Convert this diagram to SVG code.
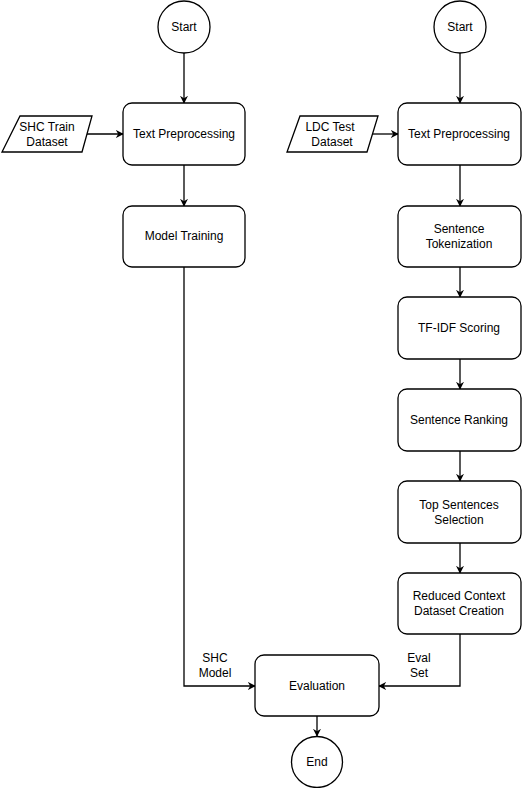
<svg xmlns="http://www.w3.org/2000/svg" width="522" height="788" viewBox="0 0 522 788">
<style>
.n{fill:#fff;stroke:#000;stroke-width:1.3}
.t{font-family:"Liberation Sans",Arial,sans-serif;font-size:12px;fill:#000;text-anchor:middle}
.c{fill:none;stroke:#000;stroke-width:1.3}
</style>
<defs>
<marker id="a" viewBox="0 0 10 10" refX="9" refY="5" markerWidth="8" markerHeight="8" markerUnits="userSpaceOnUse" orient="auto">
<path d="M0,0 L10,5 L0,10 L3,5 z" fill="#000"/>
</marker>
</defs>
<rect width="522" height="788" fill="#fff"/>
<g id="connectors">
<path class="c" d="M184,53 V103" marker-end="url(#a)"/>
<path class="c" d="M82,134 H123" marker-end="url(#a)"/>
<path class="c" d="M184,165 V206" marker-end="url(#a)"/>
<path class="c" d="M184,267 V686 H255" marker-end="url(#a)"/>
<path class="c" d="M460,53 V103" marker-end="url(#a)"/>
<path class="c" d="M368,134 H398" marker-end="url(#a)"/>
<path class="c" d="M460,165 V206" marker-end="url(#a)"/>
<path class="c" d="M460,267 V297" marker-end="url(#a)"/>
<path class="c" d="M460,359 V389" marker-end="url(#a)"/>
<path class="c" d="M460,451 V481" marker-end="url(#a)"/>
<path class="c" d="M460,543 V573" marker-end="url(#a)"/>
<path class="c" d="M460,634 V686 H379" marker-end="url(#a)"/>
<path class="c" d="M317,716 V736" marker-end="url(#a)"/>
<text class="t" x="215" y="662">SHC</text>
<text class="t" x="215" y="677">Model</text>
<text class="t" x="419" y="662">Eval</text>
<text class="t" x="419" y="677">Set</text>
</g>
<g id="start1"><circle class="n" cx="184" cy="27" r="26"/><text class="t" x="184" y="31">Start</text></g>
<g id="shc"><polygon class="n" points="20,116 92,116 82,152 2,152"/><text class="t" x="47" y="131">SHC Train</text><text class="t" x="47" y="146">Dataset</text></g>
<g id="prep1"><rect class="n" x="123" y="103" width="122" height="62" rx="9"/><text class="t" x="184" y="138">Text Preprocessing</text></g>
<g id="train"><rect class="n" x="123" y="206" width="122" height="61" rx="9"/><text class="t" x="184" y="240">Model Training</text></g>
<g id="start2"><circle class="n" cx="460" cy="27" r="26"/><text class="t" x="460" y="31">Start</text></g>
<g id="ldc"><polygon class="n" points="300,116 378,116 367,152 287,152"/><text class="t" x="330" y="131">LDC Test</text><text class="t" x="332" y="146">Dataset</text></g>
<g id="prep2"><rect class="n" x="398" y="103" width="123" height="62" rx="9"/><text class="t" x="459" y="138">Text Preprocessing</text></g>
<g id="tok"><rect class="n" x="398" y="206" width="123" height="61" rx="9"/><text class="t" x="459" y="233">Sentence</text><text class="t" x="459" y="248">Tokenization</text></g>
<g id="tfidf"><rect class="n" x="398" y="297" width="123" height="62" rx="9"/><text class="t" x="459" y="332">TF-IDF Scoring</text></g>
<g id="rank"><rect class="n" x="398" y="389" width="123" height="62" rx="9"/><text class="t" x="459" y="424">Sentence Ranking</text></g>
<g id="top"><rect class="n" x="398" y="481" width="123" height="62" rx="9"/><text class="t" x="459" y="509">Top Sentences</text><text class="t" x="459" y="524">Selection</text></g>
<g id="reduced"><rect class="n" x="398" y="573" width="123" height="61" rx="9"/><text class="t" x="459" y="600">Reduced Context</text><text class="t" x="459" y="615">Dataset Creation</text></g>
<g id="eval"><rect class="n" x="255" y="655" width="124" height="61" rx="9"/><text class="t" x="317" y="690">Evaluation</text></g>
<g id="end"><circle class="n" cx="317" cy="762" r="25.5"/><text class="t" x="317" y="766">End</text></g>
</svg>
